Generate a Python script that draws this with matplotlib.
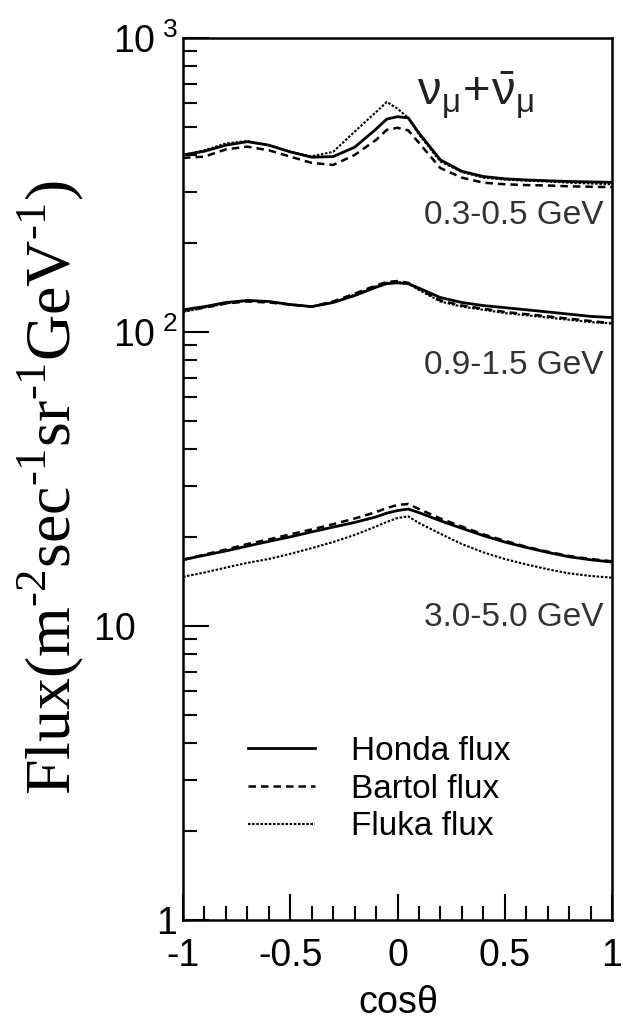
import matplotlib
matplotlib.use("Agg")
import matplotlib.pyplot as plt
from matplotlib.ticker import LogLocator, MultipleLocator, NullFormatter

plt.rcParams['font.family'] = ['Liberation Sans', 'DejaVu Sans']
plt.rcParams['mathtext.fontset'] = 'custom'
plt.rcParams['mathtext.rm'] = 'Liberation Serif'
plt.rcParams['mathtext.sf'] = 'Liberation Sans'
plt.rcParams['mathtext.it'] = 'Liberation Sans:italic'

cos_theta = [-1.0, -0.9, -0.8, -0.7, -0.6, -0.5, -0.4, -0.3, -0.2, -0.1, -0.05,
             0.0, 0.05, 0.1, 0.2, 0.3, 0.4, 0.5, 0.6, 0.7, 0.8, 0.9, 1.0]

# 0.3-0.5 GeV
honda_low = [400, 412, 432, 444, 432, 410, 393, 395, 425, 490, 530,
             540, 535, 475, 385, 352, 338, 332, 329, 327, 325, 324, 323]
bartol_low = [391, 395, 418, 427, 415, 395, 376, 370, 400, 450, 487,
              495, 485, 440, 361, 335, 322, 318, 316, 315, 313, 312, 311]
fluka_low = [400, 415, 438, 446, 432, 410, 396, 410, 480, 560, 606,
             575, 535, 470, 380, 350, 335, 330, 327, 325, 322, 320, 318]

# 0.9-1.5 GeV
honda_mid = [119, 122, 126, 128, 127, 124, 122, 126, 133, 142, 146,
             147, 146, 141, 131, 126, 123, 121, 119, 117, 115, 113, 112]
bartol_mid = [118, 121, 125, 127, 126, 124, 122, 127, 135, 144, 148,
              149, 147, 140, 128, 123, 120, 117, 115, 113, 111, 109, 107]
fluka_mid = [117, 121, 125, 128, 127, 124, 122, 126, 134, 143, 147,
             148, 146, 139, 127, 122, 119, 116, 114, 112, 110, 108, 107]

# 3.0-5.0 GeV
honda_high = [16.8, 17.4, 18.0, 18.7, 19.4, 20.1, 20.9, 21.7, 22.5, 23.5, 24.2,
              24.7, 25.0, 24.3, 22.8, 21.5, 20.3, 19.3, 18.5, 17.8, 17.2, 16.8, 16.5]
bartol_high = [16.8, 17.5, 18.2, 19.0, 19.7, 20.5, 21.3, 22.2, 23.2, 24.4, 25.2,
               25.8, 26.0, 25.0, 23.2, 21.8, 20.5, 19.5, 18.6, 17.9, 17.3, 16.9, 16.6]
fluka_high = [14.7, 15.2, 15.8, 16.4, 16.9, 17.6, 18.4, 19.3, 20.4, 21.8, 22.6,
              23.3, 23.6, 22.4, 20.6, 19.0, 17.8, 16.9, 16.2, 15.6, 15.1, 14.8, 14.6]

ranges = ['0.3-0.5 GeV', '0.9-1.5 GeV', '3.0-5.0 GeV']
range_label_y = [250, 77, 10.7]
ytick_vals = [1, 10, 100, 1000]
ytick_text = ['1', '10    ', r'$\mathsf{10^{\ 2}}$', r'$\mathsf{10^{\ 3}}$']
xtick_vals = [-1, -0.5, 0, 0.5, 1]
xtick_text = ['-1', '-0.5', '0', '0.5', '1']

fig = plt.figure(figsize=(6.23, 10.22), dpi=100)
ax = fig.add_axes([183 / 623, 1 - 920 / 1022, 429 / 623, 882 / 1022])

honda_style = dict(color='black', lw=2.0, ls='-')
bartol_style = dict(color='black', lw=1.8, ls=(0, (3, 2)))
fluka_style = dict(color='black', lw=1.5, ls=(0, (1.2, 0.8)))

for i, (h, b, f) in enumerate([(honda_low, bartol_low, fluka_low),
                               (honda_mid, bartol_mid, fluka_mid),
                               (honda_high, bartol_high, fluka_high)]):
    ax.plot(cos_theta, h, label='Honda flux' if i == 0 else None, **honda_style)
    ax.plot(cos_theta, b, label='Bartol flux' if i == 0 else None, **bartol_style)
    ax.plot(cos_theta, f, label='Fluka flux' if i == 0 else None, **fluka_style)

ax.set_yscale('log')
ax.set_xlim(-1, 1)
ax.set_ylim(1, 1000)

ax.set_yticks(ytick_vals)
ax.set_yticklabels(ytick_text)
ax.yaxis.set_minor_locator(LogLocator(base=10, subs=range(2, 10)))
ax.yaxis.set_minor_formatter(NullFormatter())
ax.set_xticks(xtick_vals)
ax.set_xticklabels(xtick_text)
ax.xaxis.set_minor_locator(MultipleLocator(0.1))

ax.tick_params(axis='both', which='both', direction='in', labelsize=27,
               width=1.5, top=False, right=False)
ax.tick_params(axis='both', which='major', length=19)
ax.tick_params(axis='both', which='minor', length=10)
ax.tick_params(axis='y', which='major', pad=4)
ax.tick_params(axis='x', which='major', pad=13)
for sp in ax.spines.values():
    sp.set_linewidth(1.8)

ax.set_xlabel(r'cos$\mathsf{\theta}$', fontsize=27, labelpad=8)
ax.set_ylabel(r'Flux(m$^{\text{-2}}$sec$^{\text{-1}}$sr$^{\text{-1}}$GeV$^{\text{-1}}$)',
              fontsize=46, family='Liberation Serif')
ax.yaxis.set_label_coords(-0.225, 0.49)

for txt, yv in zip(ranges, range_label_y):
    ax.text(0.96, yv, txt, ha='right', va='center', fontsize=24, color='#333333')

ax.text(0.09, 640, r'$\mathsf{\nu_{\mu}\!+\!\bar{\nu}_{\mu}}$', ha='left',
        va='center', fontsize=34, color='#222222')

ax.legend(loc='center left', bbox_to_anchor=(0.1515, 0.1485), frameon=False,
          fontsize=24, handlelength=2.0, handletextpad=1.1, labelspacing=0.2,
          borderpad=0, borderaxespad=0)

fig.savefig('out.png', dpi=100)
